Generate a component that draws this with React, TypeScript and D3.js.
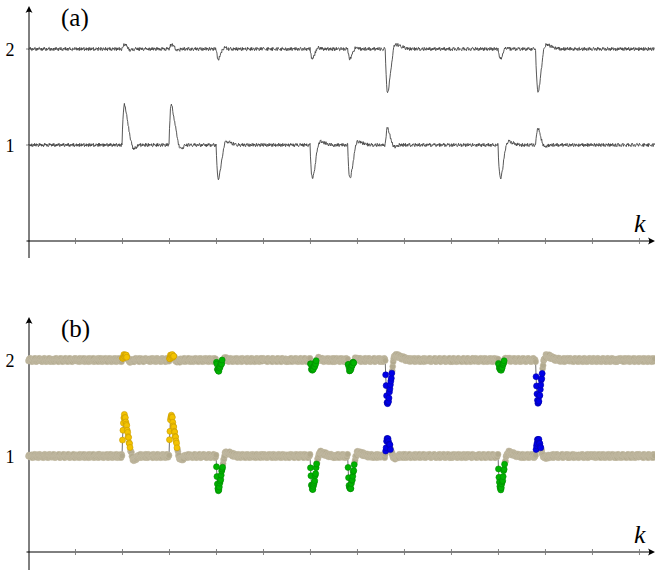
import React from "react";
import * as d3 from "d3";

// ---- data ---------------------------------------------------------------
const SAMPLE_COUNT = 1333;
const xTicks = [100, 200, 300, 400, 500, 600, 700, 800, 900, 1000, 1100, 1200, 1300];
const yTicks = [1, 2];
const baselines = [1, 2]; // lower and upper channel levels

// event onsets (sample index) and the kind of each event
const eventOnsets = [200, 300, 400, 600, 680, 760, 1000, 1080];
const eventKinds = ["rise", "rise", "dip", "dip", "dip", "drop", "dip", "drop"];

// response of each channel after an event onset (offset from baseline)
const riseLower = [0.16, 0.27, 0.36, 0.41, 0.42, 0.41, 0.39, 0.36, 0.33, 0.3, 0.27, 0.24, 0.21, 0.18, 0.15, 0.12, 0.095, 0.07, 0.045, 0.02, 0.0, -0.015, -0.028, -0.036, -0.04, -0.04, -0.037, -0.033, -0.028, -0.023, -0.018, -0.013, -0.009, -0.005, -0.002];
const riseUpper = [0.01, 0.022, 0.034, 0.043, 0.049, 0.05, 0.047, 0.041, 0.034, 0.027, 0.02, 0.014, 0.008, 0.003, -0.002, -0.006, -0.009, -0.011, -0.012, -0.012, -0.011, -0.009, -0.007, -0.005, -0.003, -0.001];
const dipLower = [-0.125, -0.22, -0.29, -0.33, -0.345, -0.34, -0.325, -0.3, -0.27, -0.24, -0.205, -0.17, -0.135, -0.1, -0.07, -0.04, -0.015, 0.005, 0.018, 0.027, 0.032, 0.035, 0.036, 0.036, 0.035, 0.033, 0.031, 0.029, 0.027, 0.025, 0.023, 0.021, 0.019, 0.017, 0.015, 0.013, 0.011, 0.009, 0.008, 0.007, 0.006, 0.005, 0.004, 0.003, 0.002, 0.001];
const dipUpper = [-0.03, -0.06, -0.085, -0.1, -0.105, -0.1, -0.09, -0.078, -0.065, -0.052, -0.04, -0.028, -0.017, -0.007, 0.001, 0.007, 0.011, 0.013, 0.013, 0.012, 0.01, 0.008, 0.006, 0.004, 0.002, 0.001];
const dropUpper = [-0.16, -0.28, -0.37, -0.425, -0.445, -0.44, -0.42, -0.39, -0.35, -0.31, -0.27, -0.225, -0.18, -0.135, -0.095, -0.055, -0.02, 0.005, 0.022, 0.033, 0.04, 0.044, 0.046, 0.046, 0.045, 0.043, 0.041, 0.039, 0.037, 0.035, 0.033, 0.031, 0.029, 0.027, 0.025, 0.023, 0.021, 0.019, 0.017, 0.015, 0.013, 0.011, 0.01, 0.009, 0.008, 0.007, 0.006, 0.005, 0.004, 0.003, 0.002, 0.001];
const dropLower = [0.05, 0.1, 0.145, 0.17, 0.18, 0.175, 0.16, 0.14, 0.12, 0.1, 0.08, 0.062, 0.045, 0.03, 0.017, 0.006, -0.003, -0.01, -0.015, -0.018, -0.02, -0.02, -0.018, -0.015, -0.012, -0.009, -0.006, -0.004, -0.002];

// number of samples after onset that belong to the event, per channel
const spanLower = { rise: 17, dip: 14, drop: 11 };
const spanUpper = { rise: 10, dip: 13, drop: 14 };
const kindFill = { rise: "#f3c300", dip: "#00b300", drop: "#0000e8" };
const kindStroke = { rise: "#c89a00", dip: "#008a00", drop: "#0000a8" };

// measurement noise per sample, one digit each (4.5 = zero)
const noiseRows = [
  "47352618405729361847502938471625039485716203948571",
  "62839405172638491057263849105736284915027364819205",
  "53816274093518264790352816470935182647903152864709",
  "29174638508172634950172839460528371649502738146095",
  "64018273594628173059481627395041826375901482673509",
  "38502917465382019476350829146730582197465038294176",
  "71936482051739682450713698425017963428057913648520",
  "25849360175248930617258943617052849630712548930617",
  "86420159736840251397862401579364820591376842015937",
  "40375926184307596218407352961847305921684370596281",
  "19562840371592648307196528043751962840731952648037",
  "73281064957238160459738210469537281609457283106459",
  "58194276305189472360589142673085194276035814972630",
  "36057418293065748129365074128963057418923607548219",
  "94027518364092715863490725813694702156834097251863",
  "15738264095178362049175382064915873624095713826094",
  "62904371586920431758620947315826904375186924037185",
  "37495802163479582016374590821673495802613497580126",
  "80613925478601395247806312954708613925748610392457",
  "51370648295317068429513074682915370648925310764289",
  "24986137502948617350249683175042986137052946813570",
  "69152083476195203847691258034796152083746192508437",
  "43728590614732850961437829506134728590164738259601",
  "08461735920486177352084163759280461735290481673952",
  "75319460287351942608753916402857319460827359146208",
  "32087951643028791564320785916423087951463027895614",
  "96543217809465327180965341278069543217089463521870",
];
const lowerRowOrder = [0, 1, 2, 3, 4, 5, 6, 7, 8, 9, 10, 11, 12, 13, 14, 15, 16, 17, 18, 19, 20, 21, 22, 23, 24, 25, 26];
const upperRowOrder = [7, 19, 2, 24, 11, 0, 16, 9, 21, 5, 26, 13, 3, 18, 22, 8, 14, 1, 25, 10, 17, 6, 23, 12, 20, 4, 15];
const noiseLower = lowerRowOrder.map((i) => noiseRows[i]).join("");
const noiseUpper = upperRowOrder.map((i) => noiseRows[i]).join("");

// ---- signal assembly ----------------------------------------------------
const profiles = {
  lower: { rise: riseLower, dip: dipLower, drop: dropLower },
  upper: { rise: riseUpper, dip: dipUpper, drop: dropUpper },
};

type Pt = { k: number; v: number; kind: string | null };

function buildChannel(which: "lower" | "upper"): Pt[] {
  const base = which === "lower" ? baselines[0] : baselines[1];
  const noise = which === "lower" ? noiseLower : noiseUpper;
  const spans = which === "lower" ? spanLower : spanUpper;
  const pts: Pt[] = [];
  for (let k = 0; k < SAMPLE_COUNT; k++) {
    let v = base + (Number(noise[k]) - 4.5) * 0.0038;
    let kind: string | null = null;
    eventOnsets.forEach((onset, i) => {
      const kd = eventKinds[i];
      const prof = (profiles[which] as any)[kd] as number[];
      const off = k - onset;
      if (off >= 0 && off < prof.length) v += prof[off];
      if (off >= 0 && off < (spans as any)[kd]) kind = kd;
    });
    pts.push({ k, v, kind });
  }
  return pts;
}

const lowerChannel = buildChannel("lower");
const upperChannel = buildChannel("upper");

// ---- layout -------------------------------------------------------------
const W = 655;
const H = 574;
const axisX = 29;
const x = d3.scaleLinear().domain([0, SAMPLE_COUNT - 1]).range([28.5, 654.5]);
const panels = [
  { label: "(a)", zero: 241, top: 6, bottom: 258, style: "line" },
  { label: "(b)", zero: 552, top: 317, bottom: 570, style: "dots" },
];
const FONT = "Liberation Serif";

function Panel({ p }: { p: (typeof panels)[number] }) {
  const y = d3.scaleLinear().domain([0, 1]).range([p.zero, p.zero - 96]);
  const line = d3
    .line<Pt>()
    .x((d) => x(d.k))
    .y((d) => y(d.v));
  const arrowX = 655;
  return (
    <g>
      {/* x axis */}
      <line x1={26.5} x2={arrowX - 4} y1={p.zero} y2={p.zero} stroke="#000" strokeWidth={1} />
      <path
        d={`M${arrowX},${p.zero} L${arrowX - 7},${p.zero - 3.5} Q${arrowX - 4.5},${p.zero} ${arrowX - 7},${p.zero + 3.5} Z`}
        fill="#000"
      />
      {xTicks.map((t) => (
        <line key={t} x1={x(t)} x2={x(t)} y1={p.zero - 3} y2={p.zero + 3} stroke="#777" strokeWidth={0.9} />
      ))}
      {/* y axis */}
      <line x1={axisX} x2={axisX} y1={p.bottom} y2={p.top + 4} stroke="#000" strokeWidth={1} />
      <path
        d={`M${axisX},${p.top} L${axisX - 3.5},${p.top + 7} Q${axisX},${p.top + 4.5} ${axisX + 3.5},${p.top + 7} Z`}
        fill="#000"
      />
      {yTicks.map((t) => (
        <g key={t}>
          <line x1={axisX - 3} x2={axisX} y1={y(t)} y2={y(t)} stroke="#777" strokeWidth={0.9} />
          <text x={10} y={y(t) + 6.5} textAnchor="middle" fontFamily={FONT} fontSize={18}>
            {t}
          </text>
        </g>
      ))}
      <text x={61} y={p.top + 20} fontFamily={FONT} fontSize={25}>
        {p.label}
      </text>
      <text x={634} y={p.zero - 9.5} fontFamily={FONT} fontSize={26} fontStyle="italic">
        k
      </text>

      {p.style === "line" ? (
        [lowerChannel, upperChannel].map((ch, i) => (
          <path key={i} d={line(ch) || ""} fill="none" stroke="#444" strokeWidth={0.9} />
        ))
      ) : (
        <g>
          {[lowerChannel, upperChannel].map((ch, i) => (
            <path key={"l" + i} d={line(ch) || ""} fill="none" stroke="#4a4a4a" strokeWidth={0.8} />
          ))}
          {[lowerChannel, upperChannel].map((ch, i) => (
            <g key={"t" + i}>
              {ch
                .filter((d) => !d.kind)
                .map((d) => (
                  <circle key={d.k} cx={x(d.k)} cy={y(d.v)} r={3} fill="#b2aa8f" stroke="#c6bfa8" strokeWidth={0.5} />
                ))}
            </g>
          ))}
          {[lowerChannel, upperChannel].map((ch, i) => (
            <g key={"c" + i}>
              {ch
                .filter((d) => d.kind)
                .map((d) => (
                  <circle
                    key={d.k}
                    cx={x(d.k)}
                    cy={y(d.v)}
                    r={3}
                    fill={(kindFill as any)[d.kind as string]}
                    stroke={(kindStroke as any)[d.kind as string]}
                    strokeWidth={0.6}
                  />
                ))}
            </g>
          ))}
        </g>
      )}
    </g>
  );
}

export default function App() {
  return (
    <svg
      width={W}
      height={H}
      viewBox={`0 0 ${W} ${H}`}
      style={{ position: "absolute", left: 0, top: 0, background: "#fff" }}
    >
      <rect width={W} height={H} fill="#fff" />
      {panels.map((p) => (
        <Panel key={p.label} p={p} />
      ))}
    </svg>
  );
}
